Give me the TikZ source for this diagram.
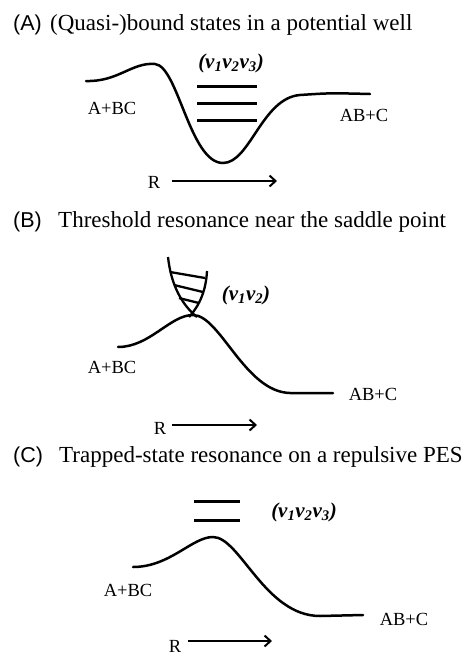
\documentclass[tikz,border=0pt]{standalone}
\usepackage{fontspec}
\setmainfont{Liberation Serif}
\setsansfont{Liberation Sans}
\usepackage{tikz}
\usetikzlibrary{arrows.meta}
\newcommand{\vib}[1]{ν\textsubscript{#1}}

\begin{document}
\begin{tikzpicture}[x=1pt,y=-1pt,
  pes/.style={line width=2.5pt,line cap=round},
  vibline/.style={line width=3pt},
  rung/.style={line width=2.3pt},
  species/.style={font=\fontsize{18.5}{18.5}\selectfont,inner sep=0pt},
  quanta/.style={font=\fontsize{21}{21}\selectfont\bfseries\itshape,inner sep=0pt},
  paneltitle/.style={font=\fontsize{23}{23}\selectfont,anchor=base west,inner sep=0pt},
  panelmark/.style={font=\fontsize{21.5}{21.5}\selectfont\sffamily,anchor=base west,inner sep=0pt},
  coordarrow/.style={line width=2pt,-{Straight Barb[length=6pt,width=11pt]}}]
  \useasboundingbox (0,0) rectangle (474,656);
  % (A) well
  \node[panelmark] (markA) at (13,30) {(A)};
  \node[paneltitle] (titleA) at (50,30) {(Quasi-)bound states in a potential well};
  \draw[pes] (86,81) .. controls (118,82) and (132,62) .. (155,64)
    .. controls (178,66) and (190,163) .. (223,163)
    .. controls (250,163) and (262,98) .. (300,95)
    .. controls (330,93) .. (370,94);
  \foreach \y in {86,103,120}
    \draw[vibline] (197,\y) -- (257,\y);
  \node[quanta] (quantaA) at (231,63) {(\vib{1}\vib{2}\vib{3})};
  \node[species] (reactA) at (112,108) {A+BC};
  \node[species] (prodA) at (364,115) {AB+C};
  \node[species] (RA) at (154,182) {R};
  \coordinate (RstartA) at (172,181);
  \coordinate (RendA) at (277,181);
  \draw[coordarrow] (RstartA) -- (RendA);
  % (B) saddle point
  \node[panelmark] (markB) at (13,227) {(B)};
  \node[paneltitle] (titleB) at (58,227) {Threshold resonance near the saddle point};
  \draw[pes] (118,347) .. controls (150,347) and (170,315) .. (193,315)
    .. controls (220,315) and (245,392) .. (290,393) -- (333,393);
  \draw[rung] (168,257) .. controls (171,285) and (182,305) .. (197,317);
  \draw[rung] (207,271) .. controls (206,290) and (200,305) .. (189,317);
  \draw[rung] (170,272) -- (205,278);
  \draw[rung] (174,285) -- (203,292);
  \draw[rung] (179,298) -- (199,303);
  \node[quanta] (quantaB) at (246,295) {(\vib{1}\vib{2})};
  \node[species] (reactB) at (112,367) {A+BC};
  \node[species] (prodB) at (373,394) {AB+C};
  \node[species] (RB) at (160,428) {R};
  \coordinate (RstartB) at (172,425);
  \coordinate (RendB) at (257,425);
  \draw[coordarrow] (RstartB) -- (RendB);
  % (C) repulsive surface
  \node[panelmark] (markC) at (13,462) {(C)};
  \node[paneltitle] (titleC) at (59,462) {Trapped-state resonance on a repulsive PES};
  \draw[vibline] (194,501) -- (240,501);
  \draw[vibline] (194,520) -- (240,520);
  \node[quanta] (quantaC) at (304,512) {(\vib{1}\vib{2}\vib{3})};
  \draw[pes] (133,567) .. controls (170,567) and (192,537) .. (213,537)
    .. controls (240,537) and (265,616) .. (320,616) -- (363,615);
  \node[species] (reactC) at (128,590) {A+BC};
  \node[species] (prodC) at (404,619) {AB+C};
  \node[species] (RC) at (175,646) {R};
  \coordinate (RstartC) at (188,641);
  \coordinate (RendC) at (272,641);
  \draw[coordarrow] (RstartC) -- (RendC);
\end{tikzpicture}
\end{document}
